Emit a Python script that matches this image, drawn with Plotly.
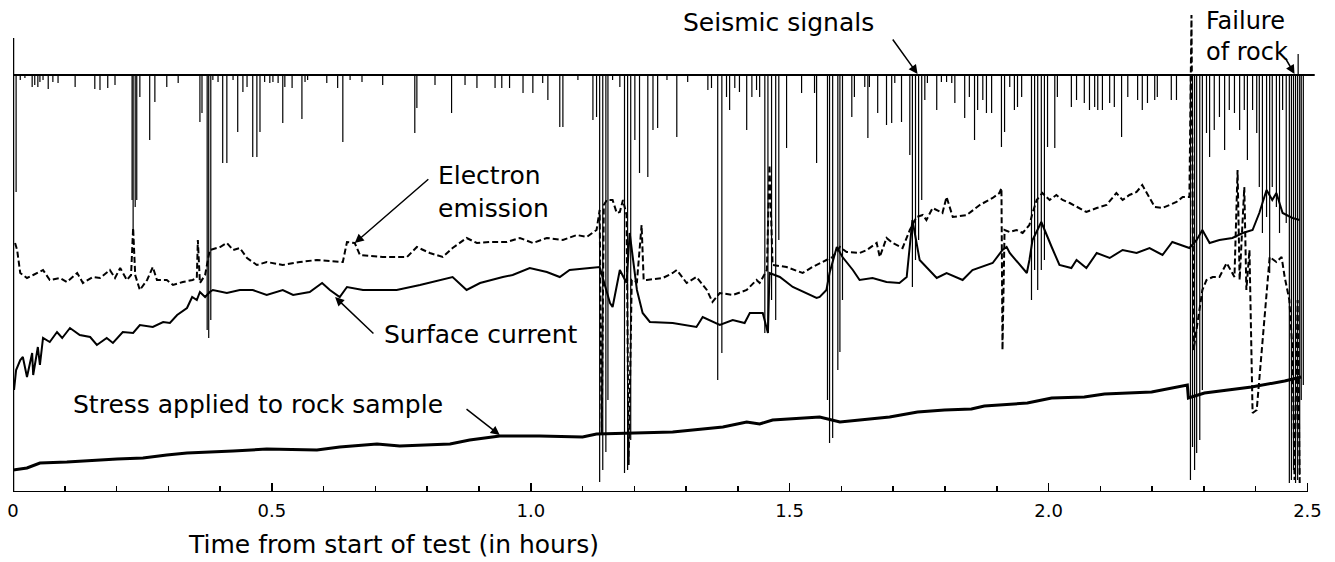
import plotly.graph_objects as go

# ---- data: time in hours, signal levels in relative chart units (0 = time axis) ----
stress_t = [0, 0.027, 0.052, 0.104, 0.201, 0.251, 0.297, 0.336, 0.425, 0.490, 0.587, 0.631, 0.703, 0.747,
            0.844, 0.882, 0.940, 1.017, 1.100, 1.127, 1.274, 1.371, 1.417, 1.442, 1.467, 1.558, 1.597, 1.693,
            1.747, 1.799, 1.851, 1.876, 1.959, 2.006, 2.069, 2.108, 2.199, 2.268, 2.270, 2.301, 2.392, 2.456, 2.488]
stress_v = [22, 24, 29, 30, 33, 34, 37, 39, 41, 43, 42, 45, 48, 46, 48, 52, 56, 56, 55, 58, 60, 65, 70, 68,
            72, 75, 70, 75, 80, 82, 83, 86, 89, 94, 95, 98, 100, 107, 94, 99, 105, 111, 115]

surface_t = [0.002, 0.006, 0.014, 0.019, 0.027, 0.037, 0.039, 0.048, 0.052, 0.058, 0.071, 0.085, 0.095, 0.110,
             0.129, 0.149, 0.162, 0.181, 0.193, 0.212, 0.232, 0.245, 0.270, 0.290, 0.303, 0.317, 0.336, 0.346,
             0.355, 0.361, 0.371, 0.380, 0.386, 0.413, 0.438, 0.463, 0.490, 0.521, 0.541, 0.573, 0.597, 0.612,
             0.631, 0.645, 0.676, 0.741, 0.786, 0.849, 0.876, 0.902, 0.946, 0.965, 0.998, 1.031, 1.056, 1.075,
             1.114, 1.133, 1.153, 1.158, 1.172, 1.185, 1.191, 1.205, 1.216, 1.230, 1.274, 1.320, 1.332, 1.351,
             1.365, 1.390, 1.413, 1.423, 1.448, 1.458, 1.461, 1.481, 1.506, 1.552, 1.558, 1.571, 1.577, 1.591,
             1.602, 1.622, 1.635, 1.660, 1.687, 1.712, 1.726, 1.737, 1.751, 1.784, 1.803, 1.834, 1.853, 1.892,
             1.911, 1.919, 1.925, 1.958, 1.963, 1.969, 1.986, 2.006, 2.021, 2.044, 2.054, 2.073, 2.093, 2.118,
             2.143, 2.170, 2.195, 2.220, 2.239, 2.272, 2.286, 2.297, 2.311, 2.330, 2.355, 2.375, 2.394, 2.407,
             2.421, 2.432, 2.440, 2.452, 2.471, 2.485]
surface_v = [102, 122, 132, 135, 115, 139, 117, 145, 127, 154, 150, 160, 154, 164,
             157, 155, 147, 154, 149, 160, 159, 167, 165, 170, 169, 177, 184, 195,
             192, 200, 195, 200, 202, 199, 202, 202, 197, 202, 197, 200, 209, 202,
             195, 205, 202, 202, 207, 215, 202, 209, 215, 217, 224, 220, 215, 222,
             224, 225, 189, 185, 222, 209, 259, 202, 179, 170, 169, 165, 175, 170,
             167, 172, 169, 179, 179, 159, 219, 215, 205, 194, 195, 202, 219, 245,
             235, 222, 212, 214, 210, 209, 215, 272, 232, 214, 219, 212, 222, 229,
             242, 245, 239, 219, 232, 252, 270, 245, 227, 224, 232, 224, 239, 234,
             242, 239, 244, 237, 250, 244, 252, 262, 249, 252, 254, 259, 262, 279,
             302, 292, 299, 279, 274, 272]

emission_t = [0.004, 0.008, 0.014, 0.027, 0.039, 0.058, 0.071, 0.091, 0.104, 0.124, 0.135, 0.154, 0.168, 0.187,
              0.197, 0.207, 0.220, 0.228, 0.232, 0.236, 0.245, 0.259, 0.270, 0.278, 0.297, 0.309, 0.328, 0.347,
              0.355, 0.357, 0.361, 0.371, 0.380, 0.400, 0.413, 0.425, 0.438, 0.452, 0.471, 0.490, 0.521, 0.554,
              0.587, 0.625, 0.637, 0.645, 0.660, 0.670, 0.714, 0.741, 0.761, 0.780, 0.805, 0.830, 0.849, 0.876,
              0.896, 0.921, 0.954, 0.979, 1.004, 1.031, 1.062, 1.089, 1.108, 1.127, 1.133, 1.137, 1.141, 1.147,
              1.158, 1.166, 1.172, 1.178, 1.185, 1.189, 1.195, 1.205, 1.214, 1.218, 1.224, 1.255, 1.274, 1.282,
              1.301, 1.320, 1.340, 1.351, 1.365, 1.390, 1.417, 1.436, 1.442, 1.456, 1.461, 1.467, 1.494, 1.525,
              1.544, 1.571, 1.583, 1.597, 1.610, 1.635, 1.649, 1.668, 1.674, 1.687, 1.699, 1.718, 1.732, 1.745,
              1.757, 1.764, 1.776, 1.795, 1.803, 1.815, 1.842, 1.867, 1.892, 1.905, 1.909, 1.911, 1.915, 1.925,
              1.938, 1.950, 1.963, 1.969, 1.977, 1.988, 2.002, 2.015, 2.027, 2.041, 2.060, 2.073, 2.093, 2.112,
              2.131, 2.143, 2.156, 2.170, 2.181, 2.195, 2.205, 2.220, 2.234, 2.247, 2.259, 2.272, 2.276, 2.280,
              2.297, 2.305, 2.317, 2.330, 2.344, 2.359, 2.365, 2.369, 2.378, 2.382, 2.388, 2.394, 2.402, 2.427,
              2.440, 2.450, 2.456, 2.465, 2.471, 2.475, 2.481, 2.485]
emission_v = [249, 242, 219, 214, 217, 222, 212, 214, 210, 219, 209, 215, 214, 222,
              214, 224, 212, 217, 264, 217, 202, 212, 225, 212, 212, 207, 210, 212,
              214, 252, 209, 217, 242, 245, 249, 242, 244, 234, 227, 230, 227, 230,
              232, 230, 230, 250, 249, 237, 235, 235, 235, 245, 239, 235, 244, 254,
              249, 250, 250, 254, 249, 254, 252, 257, 255, 262, 282, 57, 287, 292,
              292, 279, 280, 292, 277, 27, 212, 210, 267, 212, 212, 214, 219, 222,
              209, 215, 202, 190, 199, 197, 202, 212, 209, 222, 327, 227, 225, 219,
              225, 232, 235, 245, 240, 239, 242, 249, 235, 254, 249, 244, 262, 275,
              277, 272, 284, 279, 295, 275, 277, 287, 294, 299, 304, 142, 262, 260,
              262, 259, 267, 279, 292, 299, 292, 297, 292, 289, 284, 280, 284, 287,
              299, 292, 297, 300, 307, 295, 285, 284, 287, 290, 295, 295, 477, 142,
              202, 212, 215, 215, 229, 215, 322, 212, 305, 202, 242, 79, 82, 235,
              230, 235, 215, 192, 142, 12, 192, 9]

seismic_base = 417
seismic_t = [0.006, 0.014, 0.023, 0.037, 0.042, 0.048, 0.052, 0.058, 0.068, 0.077, 0.087, 0.120, 0.158, 0.168,
             0.183, 0.197, 0.230, 0.232, 0.236, 0.239, 0.245, 0.264, 0.274, 0.297, 0.319, 0.361, 0.365, 0.375,
             0.378, 0.382, 0.386, 0.396, 0.405, 0.413, 0.425, 0.434, 0.444, 0.452, 0.463, 0.471, 0.477, 0.486,
             0.496, 0.502, 0.512, 0.521, 0.525, 0.539, 0.558, 0.564, 0.569, 0.606, 0.627, 0.637, 0.651, 0.674,
             0.714, 0.776, 0.780, 0.815, 0.847, 0.873, 0.896, 0.931, 0.944, 0.959, 0.985, 1.004, 1.023, 1.033,
             1.056, 1.062, 1.091, 1.120, 1.127, 1.133, 1.139, 1.145, 1.149, 1.158, 1.172, 1.181, 1.187, 1.193,
             1.201, 1.210, 1.226, 1.236, 1.245, 1.263, 1.282, 1.303, 1.342, 1.349, 1.361, 1.369, 1.378, 1.384,
             1.394, 1.403, 1.417, 1.427, 1.436, 1.442, 1.452, 1.458, 1.465, 1.473, 1.479, 1.494, 1.523, 1.548,
             1.552, 1.573, 1.577, 1.583, 1.593, 1.597, 1.602, 1.620, 1.625, 1.645, 1.651, 1.654, 1.670, 1.687,
             1.697, 1.703, 1.716, 1.732, 1.737, 1.743, 1.749, 1.755, 1.761, 1.766, 1.784, 1.793, 1.803, 1.813,
             1.819, 1.838, 1.847, 1.857, 1.863, 1.873, 1.880, 1.890, 1.909, 1.915, 1.925, 1.934, 1.940, 1.948,
             1.967, 1.973, 1.979, 1.986, 1.992, 1.998, 2.012, 2.017, 2.044, 2.054, 2.069, 2.079, 2.089, 2.095,
             2.104, 2.118, 2.127, 2.141, 2.153, 2.172, 2.181, 2.191, 2.205, 2.210, 2.237, 2.247, 2.274, 2.278,
             2.282, 2.286, 2.292, 2.297, 2.305, 2.311, 2.320, 2.330, 2.340, 2.349, 2.359, 2.369, 2.378, 2.384,
             2.394, 2.402, 2.407, 2.413, 2.421, 2.427, 2.432, 2.440, 2.446, 2.452, 2.459, 2.465, 2.469, 2.473,
             2.477, 2.481, 2.482, 2.485, 2.488, 2.492]
seismic_low = [300, 412, 414, 405, 407, 405, 410, 412, 403, 410, 409, 405, 403, 402,
               404, 407, 292, 262, 285, 292, 395, 352, 390, 405, 409, 370, 379, 162,
               154, 172, 412, 410, 329, 329, 412, 360, 400, 405, 335, 335, 360, 410,
               409, 410, 409, 369, 405, 404, 373, 410, 412, 409, 404, 350, 412, 410,
               407, 359, 384, 407, 379, 407, 404, 404, 404, 404, 399, 399, 409, 392,
               365, 365, 412, 372, 375, 10, 22, 40, 92, 412, 405, 19, 22, 52,
               352, 319, 315, 362, 364, 412, 355, 410, 402, 404, 112, 139, 395, 382,
               404, 400, 362, 395, 402, 395, 159, 159, 192, 172, 252, 344, 399, 399,
               329, 92, 49, 54, 122, 140, 192, 375, 395, 405, 354, 405, 379, 367,
               369, 409, 370, 337, 205, 232, 252, 292, 392, 409, 382, 410, 410, 409,
               389, 374, 395, 352, 382, 392, 379, 379, 345, 360, 405, 382, 385, 395,
               192, 222, 202, 222, 232, 345, 344, 395, 385, 392, 389, 382, 385, 382,
               382, 389, 385, 355, 395, 392, 382, 389, 392, 395, 392, 392, 12, 45,
               22, 39, 52, 102, 359, 335, 362, 375, 342, 382, 379, 362, 382, 332,
               382, 359, 305, 259, 275, 219, 305, 285, 259, 382, 269, 9, 12, 22,
               9, 12, 438, 17, 92, 107]

tick_vals = [0, 0.5, 1.0, 1.5, 2.0, 2.5]
tick_text = ["0", "0.5", "1.0", "1.5", "2.0", "2.5"]

# ---- build figure ----
sx, sy = [], []
for t, low in zip(seismic_t, seismic_low):
    sx += [t, t, None]
    sy += [seismic_base, low, None]

fig = go.Figure()
fig.add_trace(go.Scatter(x=sx, y=sy, mode="lines", line=dict(color="black", width=1.2),
                         hoverinfo="skip", showlegend=False))
fig.add_trace(go.Scatter(x=[0, 2.514], y=[seismic_base, seismic_base], mode="lines",
                         line=dict(color="black", width=2), showlegend=False, hoverinfo="skip"))
fig.add_trace(go.Scatter(x=surface_t, y=surface_v, mode="lines", name="Surface current",
                         line=dict(color="black", width=2), showlegend=False))
fig.add_trace(go.Scatter(x=emission_t, y=emission_v, mode="lines", name="Electron emission",
                         line=dict(color="black", width=2, dash="6px,3px"), showlegend=False))
fig.add_trace(go.Scatter(x=stress_t, y=stress_v, mode="lines", name="Stress",
                         line=dict(color="black", width=3), showlegend=False))

FONT = "DejaVu Sans"


def label(text, x, y, size=25, yref="y", yanchor="middle"):
    return dict(text=text, x=x, y=y, xref="x", yref=yref, xanchor="left", yanchor=yanchor, align="left",
                showarrow=False, font=dict(family=FONT, size=size, color="black"))


def arrow(x0, y0, x1, y1):
    return dict(x=x1, y=y1, ax=x0, ay=y0, xref="x", yref="y", axref="x", ayref="y", text="",
                showarrow=True, arrowhead=2, arrowsize=1.2, arrowwidth=1.5, arrowcolor="black")


annotations = [
    label("Seismic signals", 1.290, 469.5),
    label("Electron<br>emission", 0.817, 300),
    label("Surface current", 0.712, 157.5),
    label("Stress applied to rock sample", 0.112, 87.5),
    label("Failure<br>of rock", 2.301, 456, size=24),
    label("Time from start of test (in hours)", 0.334, -0.1405, yref="paper", yanchor="bottom"),
    arrow(1.697, 454, 1.747, 418),
    arrow(0.805, 314, 0.660, 249),
    arrow(0.699, 157, 0.622, 195),
    arrow(0.873, 84, 0.940, 57),
    arrow(2.456, 435, 2.475, 418),
]

fig.update_layout(
    width=1335, height=562,
    margin=dict(l=13, r=12, t=0, b=70, autoexpand=False),
    paper_bgcolor="white", plot_bgcolor="white",
    showlegend=False,
    annotations=annotations,
    shapes=[
        dict(type="line", xref="x", yref="y", x0=0, x1=2.5, y0=0, y1=0, line=dict(color="black", width=2)),
        dict(type="line", xref="x", yref="y", x0=0, x1=0, y0=0, y1=454, line=dict(color="black", width=2.5)),
    ],
    xaxis=dict(range=[0, 2.53], showgrid=False, zeroline=False, showline=False, automargin=False,
               tickmode="array", tickvals=tick_vals, ticktext=tick_text,
               ticks="inside", ticklen=9, tickwidth=1.5, tickcolor="black",
               ticklabelstandoff=6,
               tickfont=dict(family=FONT, size=18, color="black"),
               minor=dict(dtick=0.1, tick0=0, ticks="inside", ticklen=6, tickwidth=1.5, tickcolor="black")),
    yaxis=dict(range=[0, 492], visible=False, showgrid=False, zeroline=False, automargin=False),
)

fig.write_html("out.html", config={"displayModeBar": False, "staticPlot": True},
               post_script="document.body.style.margin='0';document.body.style.overflow='hidden';")
